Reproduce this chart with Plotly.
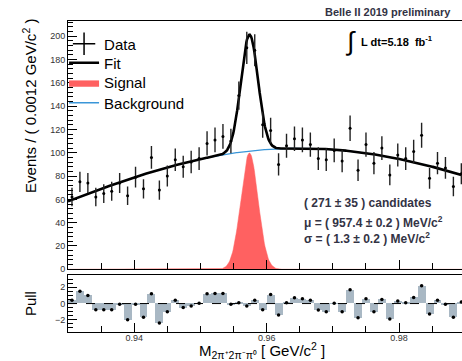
import numpy as np
import plotly.graph_objects as go

# ---------------- data ----------------
x_lo = 0.93
bin_w = 0.0012
counts = [62, 75, 74, 62, 65, 67, 74, 63, 79, 69,
          96, 68, 80, 94, 88, 92, 95, 108, 111, 114,
          110, 149, 190, 188, 124, 119, 90, 106, 112, 111,
          107, 95, 94, 102, 93, 121, 85, 107, 91, 104,
          81, 98, 95, 101, 115, 78, 91, 87, 71, 82]
pulls = [0.4, 1.5, 1.0, -0.75, -0.75, -0.75, -0.1, -2.0, -0.1, -1.7,
         1.2, -2.4, -1.0, 0.4, -0.5, -0.3, 0.05, 1.2, 1.25, 1.25,
         -0.1, 0.1, -0.3, 0.4, -0.75, 1.1, -1.4, 0.1, 0.7, 0.6,
         0.4, -0.8, -1.0, 0.05, -1.0, 1.7, -1.75, 0.6, -1.0, 0.5,
         -1.9, 0.3, 0.1, 0.75, 2.2, -1.3, 0.4, -0.1, -1.7, 0.2]
# background shape
bkg_x = [0.930, 0.935, 0.940, 0.945, 0.950, 0.955, 0.960, 0.965, 0.970, 0.975, 0.980, 0.985, 0.990]
bkg_y = [58.5, 68.5, 79.0, 87.5, 95.0, 99.5, 102.5, 103.8, 102.8, 100.0, 94.5, 88.0, 80.0]
# fit parameters shown on the chart
n_sig = 271
mu = 0.9574
sigma = 0.0013
x_ticks = [0.94, 0.96, 0.98]
legend_names = ["Data", "Fit", "Signal", "Background"]

# ---------------- derived ----------------
centers = x_lo + bin_w * (np.arange(len(counts)) + 0.5)
errs = np.sqrt(np.array(counts, dtype=float))
xf = np.linspace(0.93, 0.99, 600)
coef = np.polyfit(bkg_x, bkg_y, 4)
bkg = np.polyval(coef, xf)
sig = n_sig * bin_w / (sigma * np.sqrt(2 * np.pi)) * np.exp(-0.5 * ((xf - mu) / sigma) ** 2)

FONT = "Liberation Sans, Arial, sans-serif"
RED = "#ff6161"
BLUE = "#3a96d8"
TXT = "#333344"

fig = go.Figure()
fig.add_trace(go.Scatter(x=xf, y=sig, fill="tozeroy", fillcolor=RED, mode="lines",
                         line=dict(color=RED, width=0.5), showlegend=False, hoverinfo="skip"))
fig.add_trace(go.Scatter(x=xf, y=bkg, mode="lines", line=dict(color=BLUE, width=1.2),
                         showlegend=False))
fig.add_trace(go.Scatter(x=xf, y=bkg + sig, mode="lines", line=dict(color="black", width=2.6),
                         showlegend=False))
fig.add_trace(go.Scatter(x=centers, y=counts, mode="markers",
                         marker=dict(color="black", size=3),
                         error_y=dict(type="data", array=errs, width=0, thickness=1.4, color="#222"),
                         showlegend=False))
# legend entries (each in its own legend box for exact spacing)
fig.add_trace(go.Scatter(x=[None], y=[None], mode="markers", name=legend_names[0], legend="legend",
                         marker=dict(symbol="cross-thin", size=18, line=dict(width=1.5, color="black"))))
fig.add_trace(go.Scatter(x=[None], y=[None], mode="lines", name=legend_names[1], legend="legend2",
                         line=dict(color="black", width=2.6)))
fig.add_trace(go.Scatter(x=[None], y=[None], mode="lines", name=legend_names[2], legend="legend3",
                         fill="toself", fillcolor=RED, line=dict(color=RED, width=0.5)))
fig.add_trace(go.Scatter(x=[None], y=[None], mode="lines", name=legend_names[3], legend="legend4",
                         line=dict(color=BLUE, width=1.5)))

# pull panel
fig.add_trace(go.Bar(x=centers, y=pulls, width=bin_w, marker=dict(color="#a9b8c4", line=dict(width=0)),
                     xaxis="x2", yaxis="y2", showlegend=False))
fig.add_trace(go.Scatter(x=centers, y=pulls, mode="markers", marker=dict(color="black", size=3.5),
                         xaxis="x2", yaxis="y2", showlegend=False))

axis_common = dict(showline=True, linecolor="black", linewidth=1, showgrid=False, zeroline=False,
                   ticks="inside", tickcolor="black", tickfont=dict(size=9, color="#333"))


def leg(y):
    return dict(x=-0.01, y=y, xanchor="left", yanchor="middle", bgcolor="rgba(0,0,0,0)",
                font=dict(size=15, family=FONT), itemsizing="trace")


fig.update_layout(
    width=462, height=361,
    margin=dict(l=68, r=0, t=21, b=29),
    paper_bgcolor="white", plot_bgcolor="white",
    font=dict(family=FONT, color="black"),
    bargap=0,
    xaxis=dict(domain=[0, 1], anchor="y", range=[0.93, 0.9895], tickvals=x_ticks,
               showticklabels=False, ticklen=9, mirror=True,
               minor=dict(dtick=0.005, tick0=0.93, ticklen=6, ticks="inside", tickcolor="black"),
               **axis_common),
    yaxis=dict(domain=[0.2016, 1], anchor="x", range=[0, 213], dtick=20, tick0=0, ticklen=9,
               minor=dict(dtick=4, tick0=0, ticklen=5, ticks="inside", tickcolor="black"),
               **axis_common),
    xaxis2=dict(domain=[0, 1], anchor="y2", range=[0.93, 0.9895], matches="x", tickvals=x_ticks,
                ticklen=9, mirror=True, ticklabelstandoff=-3,
                minor=dict(dtick=0.005, tick0=0.93, ticklen=6, ticks="inside", tickcolor="black"),
                **axis_common),
    yaxis2=dict(domain=[0, 0.183], anchor="x2", range=[-3.5, 3.5], tickvals=[-2, 0, 2], ticklen=9,
                minor=dict(dtick=0.5, tick0=0, ticklen=5, ticks="inside", tickcolor="black"),
                **axis_common),
    legend=leg(0.926),
    legend2=leg(0.865),
    legend3=leg(0.801),
    legend4=leg(0.736),
)

fig.add_shape(type="line", xref="x2 domain", yref="y2", x0=0, x1=1, y0=0, y1=0,
              line=dict(color="black", width=1, dash="dash"))

ann = [
    dict(text="Events / ( 0.0012 GeV/c<sup>2</sup> )", x=-0.0965, y=0.727, textangle=-90,
         font=dict(size=15)),
    dict(text="Pull", x=-0.0965, y=0.093, textangle=-90, font=dict(size=15)),
    dict(text="M<sub>2π⁺2π⁻π⁰</sub> [ GeV/c<sup>2</sup> ]", x=0.492, y=-0.061, font=dict(size=15)),
    dict(text="<b>Belle II 2019 preliminary</b>", x=0.977, y=1.029, xanchor="right",
         font=dict(size=11, color=TXT)),
    dict(text="∫", x=0.718, y=0.936, font=dict(size=26)),
    dict(text="<b>L dt=5.18  fb<sup>-1</sup></b>", x=0.739, y=0.936, xanchor="left",
         font=dict(size=11)),
    dict(text="<b>( 271 ± 35 ) candidates</b>", x=0.594, y=0.415, xanchor="left",
         font=dict(size=12, color=TXT)),
    dict(text="<b>μ = ( 957.4 ± 0.2 ) MeV/c<sup>2</sup></b>", x=0.594, y=0.355, xanchor="left",
         font=dict(size=12, color=TXT)),
    dict(text="<b>σ = ( 1.3 ± 0.2 ) MeV/c<sup>2</sup></b>", x=0.594, y=0.301, xanchor="left",
         font=dict(size=12, color=TXT)),
]
for a in ann:
    a.setdefault("xanchor", "center")
    fig.add_annotation(xref="paper", yref="paper", showarrow=False, yanchor="middle", **a)

fig.write_html("out.html")
